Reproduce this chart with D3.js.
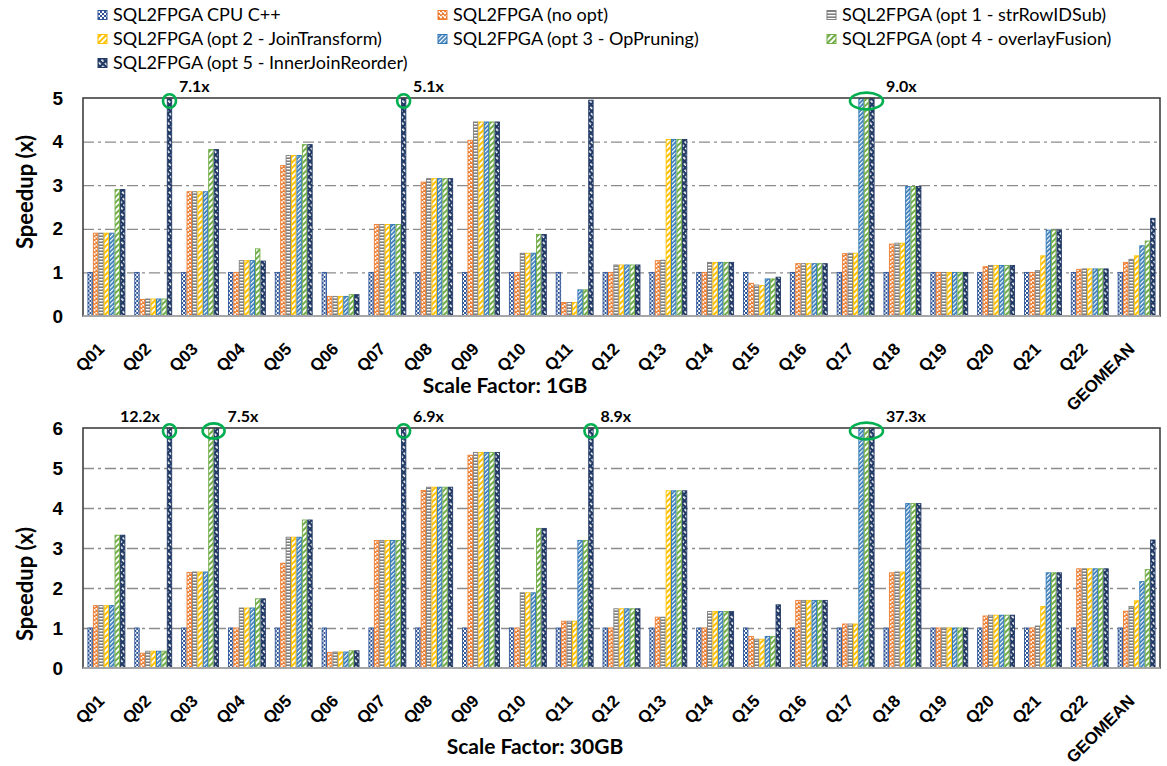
<!DOCTYPE html>
<html>
<head>
<meta charset="utf-8">
<script src="https://cdn.jsdelivr.net/npm/d3@7"></script>
<style>
  body { margin: 0; background: #fff; }
  svg { font-family: Lato, "Open Sans", sans-serif; }
  .tick text { font-weight: bold; fill: #000; }
</style>
</head>
<body>
<svg width="1167" height="766"></svg>
<script>
var svg = d3.select("svg"),
    width = +svg.attr("width"),
    height = +svg.attr("height");

// categories and series
var categories = ["Q01","Q02","Q03","Q04","Q05","Q06","Q07","Q08","Q09","Q10","Q11",
                  "Q12","Q13","Q14","Q15","Q16","Q17","Q18","Q19","Q20","Q21","Q22","GEOMEAN"];
var seriesNames = ["SQL2FPGA CPU C++", "SQL2FPGA (no opt)", "SQL2FPGA (opt 1 - strRowIDSub)",
                   "SQL2FPGA (opt 2 - JoinTransform)", "SQL2FPGA (opt 3 - OpPruning)",
                   "SQL2FPGA (opt 4 - overlayFusion)", "SQL2FPGA (opt 5 - InnerJoinReorder)"];
var seriesColors = ["#2F5597", "#ED7D31", "#7F7F7F", "#FFC000", "#2E75B6", "#70AD47", "#203864"];

// Scale factor 1GB speedups
var cpu1   = [1,1,1,1,1,1,1,1,1,1,1,1,1,1,1,1,1,1,1,1,1,1,1];
var noOpt1 = [1.9,0.38,2.85,1.0,3.45,0.45,2.1,3.07,4.03,1.0,0.31,1.0,1.27,1.0,0.75,1.2,1.43,1.65,1.0,1.13,1.0,1.07,1.23];
var opt1_1 = [1.9,0.39,2.85,1.27,3.68,0.45,2.1,3.15,4.45,1.44,0.31,1.17,1.28,1.23,0.71,1.2,1.44,1.67,1.0,1.16,1.04,1.08,1.3];
var opt2_1 = [1.9,0.39,2.85,1.27,3.68,0.45,2.1,3.15,4.45,1.44,0.31,1.17,4.05,1.23,0.7,1.2,1.44,1.67,1.0,1.16,1.38,1.08,1.38];
var opt3_1 = [1.9,0.39,2.85,1.27,3.68,0.45,2.1,3.15,4.45,1.44,0.6,1.17,4.05,1.23,0.85,1.2,9.0,2.97,1.0,1.16,1.97,1.08,1.61];
var opt4_1 = [2.9,0.39,3.82,1.54,3.93,0.49,2.1,3.15,4.45,1.87,0.6,1.17,4.05,1.23,0.85,1.2,9.0,2.97,1.0,1.16,1.97,1.08,1.72];
var opt5_1 = [2.9,7.1,3.82,1.26,3.93,0.49,5.1,3.15,4.45,1.87,4.95,1.17,4.05,1.23,0.89,1.2,9.0,2.97,1.0,1.16,1.97,1.08,2.24];

// Scale factor 30GB speedups
var cpu30   = [1,1,1,1,1,1,1,1,1,1,1,1,1,1,1,1,1,1,1,1,1,1,1];
var noOpt30 = [1.56,0.37,2.39,1.0,2.62,0.39,3.19,4.44,5.32,1.0,1.17,1.0,1.27,1.0,0.79,1.69,1.1,2.38,1.0,1.3,1.0,2.48,1.42];
var opt1_30 = [1.56,0.42,2.4,1.5,3.27,0.4,3.19,4.52,5.39,1.88,1.17,1.48,1.27,1.41,0.72,1.69,1.1,2.4,1.0,1.32,1.05,2.48,1.54];
var opt2_30 = [1.56,0.42,2.4,1.5,3.27,0.4,3.19,4.52,5.39,1.88,1.17,1.48,4.43,1.41,0.72,1.69,1.1,2.4,1.0,1.32,1.54,2.48,1.68];
var opt3_30 = [1.56,0.42,2.4,1.5,3.27,0.4,3.19,4.52,5.39,1.88,3.19,1.48,4.43,1.41,0.79,1.69,37.3,4.11,1.0,1.32,2.38,2.48,2.16];
var opt4_30 = [3.32,0.42,7.5,1.73,3.7,0.43,3.19,4.52,5.39,3.49,3.19,1.48,4.43,1.41,0.79,1.69,37.3,4.11,1.0,1.32,2.38,2.48,2.46];
var opt5_30 = [3.32,12.2,7.5,1.73,3.7,0.43,6.9,4.52,5.39,3.49,8.9,1.48,4.43,1.41,1.58,1.69,37.3,4.11,1.0,1.32,2.38,2.48,3.2];

var yTicks1 = [0,1,2,3,4,5];
var yTicks30 = [0,1,2,3,4,5,6];

var panels = [
  { series: [cpu1, noOpt1, opt1_1, opt2_1, opt3_1, opt4_1, opt5_1], ticks: yTicks1,
    top: 98, bottom: 316, title: "Scale Factor: 1GB", titleX: 505, titleY: 393, labelY: 192 },
  { series: [cpu30, noOpt30, opt1_30, opt2_30, opt3_30, opt4_30, opt5_30], ticks: yTicks30,
    top: 428, bottom: 668, title: "Scale Factor: 30GB", titleX: 535, titleY: 754, labelY: 584 }
];

var left = 83, right = 1160;

// fill patterns, one per series
var defs = svg.append("defs");
function pat(id, w, h, color, rot, draw) {
  var p = defs.append("pattern").attr("id", id).attr("patternUnits", "userSpaceOnUse")
    .attr("width", w).attr("height", h);
  if (rot) p.attr("patternTransform", "rotate(" + rot + ")");
  p.append("rect").attr("width", w).attr("height", h).attr("fill", color);
  draw(p);
}
function white(p, x, y, w, h) {
  p.append("rect").attr("x", x).attr("y", y).attr("width", w).attr("height", h).attr("fill", "#fff");
}
pat("p0", 4, 4, seriesColors[0], 0, function(p) { white(p, 0, 0, 2, 2); white(p, 2, 2, 2, 2); });
pat("p1", 4, 4, seriesColors[1], 0, function(p) { white(p, 0, 0, 2, 1.2); white(p, 2, 2, 2, 1.2); white(p, 1, 1.2, 3, 0.8); });
pat("p2", 6, 3, seriesColors[2], 0, function(p) { white(p, 0, 0, 6, 1.4); });
pat("p3", 4, 4, seriesColors[3], 45, function(p) { white(p, 0, 0, 2, 4); });
pat("p4", 3, 3, seriesColors[4], 45, function(p) { white(p, 0, 0, 1.3, 3); });
pat("p5", 4, 4, seriesColors[5], 45, function(p) { white(p, 0, 0, 2, 4); });
pat("p6", 4, 5, seriesColors[6], -45, function(p) { white(p, 0, 0, 1.6, 3); });

var x0 = d3.scaleBand().domain(categories).range([left, right]).paddingInner(0.19).paddingOuter(0.095);
var x1 = d3.scaleBand().domain(d3.range(seriesNames.length)).range([0, x0.bandwidth()]);

panels.forEach(function(pn) {
  var yMax = d3.max(pn.ticks);
  var y = d3.scaleLinear().domain([0, yMax]).range([pn.bottom, pn.top]).clamp(true);
  var g = svg.append("g");

  // gridlines
  g.append("g")
    .attr("transform", "translate(" + left + ",0)")
    .call(d3.axisLeft(y).tickValues(pn.ticks.filter(function(t) { return t > 0 && t < yMax; }))
      .tickSize(-(right - left)).tickFormat(""))
    .call(function(a) {
      a.select(".domain").remove();
      a.selectAll("line").attr("stroke", "#8c8c8c").attr("stroke-width", 1.3)
        .attr("stroke-dasharray", "11,4,3,4");
    });

  // bars
  var rows = categories.map(function(c, i) {
    return pn.series.map(function(s, k) { return { cat: c, k: k, v: s[i] }; });
  });
  g.append("g").selectAll("g").data(rows).enter().append("g")
    .attr("transform", function(d) { return "translate(" + x0(d[0].cat) + ",0)"; })
    .selectAll("rect").data(function(d) { return d; }).enter().append("rect")
      .attr("x", function(d) { return x1(d.k) + 0.5; })
      .attr("y", function(d) { return y(d.v); })
      .attr("width", x1.bandwidth() - 1)
      .attr("height", function(d) { return y(0) - y(d.v); })
      .attr("fill", function(d) { return "url(#p" + d.k + ")"; })
      .attr("stroke", function(d) { return seriesColors[d.k]; })
      .attr("stroke-width", 0.9);

  // frame
  g.append("rect").attr("x", left).attr("y", pn.top).attr("width", right - left)
    .attr("height", pn.bottom - pn.top).attr("fill", "none")
    .attr("stroke", "#404040").attr("stroke-width", 1.6);
  g.append("line").attr("x1", left).attr("x2", right).attr("y1", pn.bottom).attr("y2", pn.bottom)
    .attr("stroke", "#a6a6a6").attr("stroke-width", 2);

  // y axis
  g.append("g")
    .attr("transform", "translate(" + left + ",0)")
    .call(d3.axisLeft(y).tickValues(pn.ticks).tickSize(0).tickPadding(20).tickFormat(d3.format("d")))
    .call(function(a) {
      a.select(".domain").remove();
      a.selectAll("text").style("font-size", "19px");
    });

  // x axis labels
  g.append("g")
    .attr("transform", "translate(0," + pn.bottom + ")")
    .call(d3.axisBottom(x0).tickSize(0).tickPadding(0))
    .call(function(a) {
      a.select(".domain").remove();
      a.selectAll("text")
        .style("font-size", "17px")
        .attr("text-anchor", "end")
        .attr("dy", 0)
        .attr("transform", "translate(-1,34) rotate(-45)");
    });

  g.append("text").attr("x", pn.titleX).attr("y", pn.titleY).attr("text-anchor", "middle")
    .style("font-size", "21px").style("font-weight", "bold").text(pn.title);

  g.append("text").attr("transform", "translate(33," + pn.labelY + ") rotate(-90)")
    .attr("text-anchor", "middle").style("font-size", "22px").style("font-weight", "bold")
    .text("Speedup (x)");

  // off-scale markers
  var capped = categories.map(function(c, i) {
    var ks = pn.series.map(function(s, k) { return s[i] > yMax ? k : -1; })
      .filter(function(k) { return k >= 0; });
    return { cat: c, i: i, ks: ks, v: d3.max(ks, function(k) { return pn.series[k][i]; }) };
  });
  capped.forEach(function(c, idx) {
    if (!c.ks.length) return;
    var n = c.ks.length;
    var cx = x0(c.cat) + d3.mean(c.ks, function(k) { return x1(k) + x1.bandwidth() / 2; });
    var rx = Math.max(6.5, 5.5 * n), ry = 6 + 0.8 * n;
    g.append("ellipse").attr("cx", cx).attr("cy", pn.top + 3).attr("rx", rx).attr("ry", ry)
      .attr("fill", "none").attr("stroke", "#00B050").attr("stroke-width", 2.6);
    var nextCapped = capped[idx + 1] && capped[idx + 1].ks.length;
    g.append("text")
      .attr("x", nextCapped ? cx - rx - 3 : cx + rx + 3)
      .attr("y", pn.top - 6)
      .attr("text-anchor", nextCapped ? "end" : "start")
      .style("font-size", "16px").style("font-weight", "bold")
      .text(c.v.toFixed(1) + "x");
  });
});

// legend
var legendCols = [98, 438, 827];
var legend = svg.append("g").selectAll("g").data(seriesNames).enter().append("g")
  .attr("transform", function(d, i) {
    return "translate(" + legendCols[i % 3] + "," + (15 + Math.floor(i / 3) * 24) + ")";
  });
legend.append("rect").attr("x", 0).attr("y", -4.5).attr("width", 9).attr("height", 9)
  .attr("fill", function(d, i) { return "url(#p" + i + ")"; })
  .attr("stroke", function(d, i) { return seriesColors[i]; });
legend.append("text").attr("x", 15).attr("y", 0).attr("dy", "0.35em")
  .style("font-size", "18px").text(function(d) { return d; });
</script>
</body>
</html>
